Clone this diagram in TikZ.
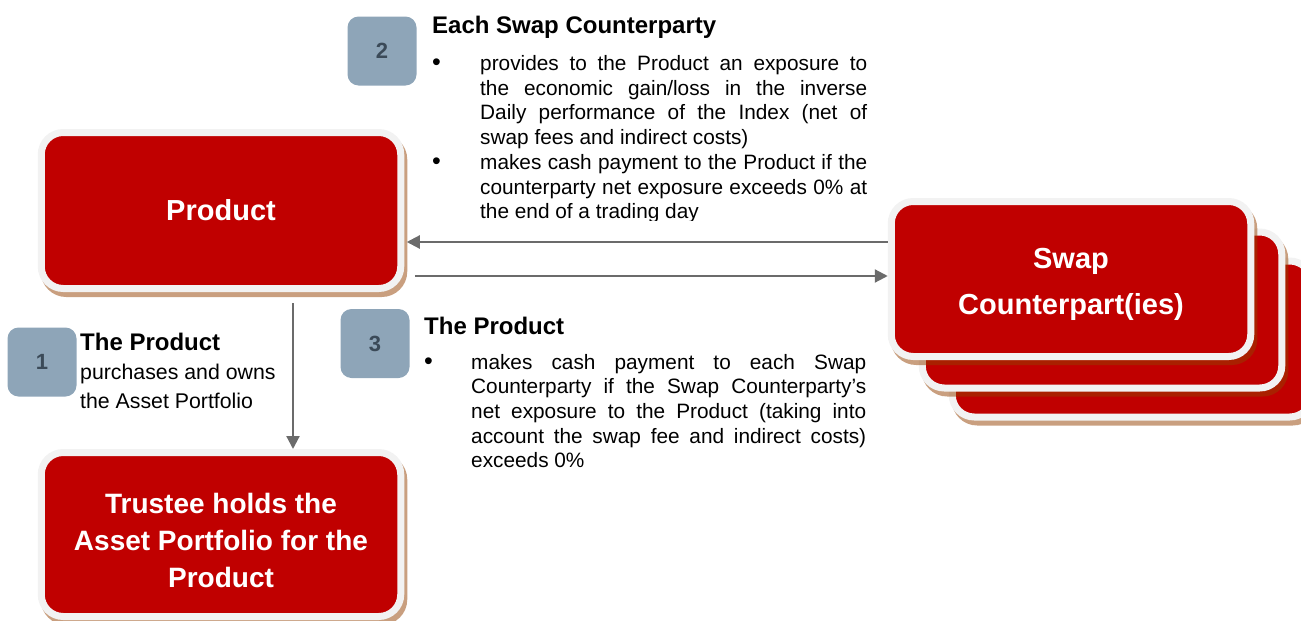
\documentclass[tikz,border=0pt]{standalone}
\usepackage{fontspec}
\setmainfont{Liberation Sans}
\usetikzlibrary{arrows.meta,calc}
\definecolor{boxred}{HTML}{C00000}
\definecolor{rim}{HTML}{F2F2F2}
\definecolor{shadowc}{RGB}{147,64,0}
\definecolor{badgefill}{HTML}{8EA5B8}
\definecolor{badgetext}{HTML}{3B4A58}
\definecolor{arrowgray}{HTML}{6B6B6B}
\hyphenpenalty=10000
\exhyphenpenalty=10000
\tikzset{
  redbox/.style={draw=rim, fill=boxred, line width=7pt, rounded corners=22pt,
    minimum width=359.5pt, minimum height=156pt, inner sep=0pt, text=white,
    font=\fontsize{29}{46}\selectfont\bfseries, align=center,
    preaction={draw=shadowc, draw opacity=0.5, fill=none, line width=7pt,
      transform canvas={xshift=3pt,yshift=-5pt}}},
  boxtext/.style={inner sep=0pt, text=white, font=\fontsize{28}{37}\selectfont\bfseries, align=center},
  badge/.style={fill=badgefill, rounded corners=11pt, minimum size=69pt, inner sep=0pt,
    text=badgetext, font=\fontsize{22}{26}\selectfont\bfseries},
  head/.style={inner sep=0pt, font=\fontsize{24}{28}\selectfont\bfseries, anchor=base west},
  bodytext/.style={inner sep=0pt, font=\fontsize{20.8}{24.7}\selectfont, anchor=base west},
  bulletmark/.style={inner sep=0pt, font=\fontsize{25}{25}\selectfont, anchor=base west},
  para/.style={bodytext, align=justify},
  conn/.style={draw=arrowgray, line width=2.2pt, -{Triangle[length=13pt,width=13pt]}},
}
\begin{document}
\begin{tikzpicture}[x=1pt,y=-1pt]
\useasboundingbox (0,0) rectangle (1301,621);

% main boxes
\node[redbox] (prod) at (221,210.5) {Product};
\node[redbox, minimum height=164pt] (trustee) at (221,534.5) {};
\node[boxtext] (trusteelbl) at (221,540) {Trustee holds the\\Asset Portfolio for the\\Product};

% swap stack
\node[redbox] (swap3) at (1132,339) {};
\node[redbox] (swap2) at (1102,310) {};
\node[redbox, minimum height=155pt] (swap1) at (1071,279) {};
\node[boxtext, font=\fontsize{29}{46}\selectfont\bfseries] (swaplbl) at (1071,284) {Swap\\Counterpart(ies)};

% connectors
\coordinate (ya) at (0,242);
\coordinate (yb) at (0,276);
\coordinate (xv) at (293,0);
\draw[conn] (swap1.west |- ya) -- ($(prod.east |- ya)+(2.5,0)$);
\draw[conn] ($(prod.east |- yb)+(10.5,0)$) -- (swap1.west |- yb);
\draw[conn] ($(prod.south -| xv)+(0,11)$) -- (trustee.north -| xv);

% badges
\node[badge] (n1) at (42,362) {1};
\node[badge] (n2) at (382,51) {2};
\node[badge] (n3) at (375,343.5) {3};

% block 1
\node[head] (h1) at (80,350.5) {The Product};
\node[bodytext, align=left, font=\fontsize{21.3}{29}\selectfont] (t1) at (80,408.5) {purchases and owns\\the Asset Portfolio};

% block 2
\node[head] (h2) at (432,33) {Each Swap Counterparty};
\node[bulletmark] (b2a) at (432,70.5) {•};
\node[para, text width=387pt] (t2a) at (480,70.5) {provides to the Product an exposure to\linebreak the economic gain/loss in the inverse\linebreak Daily performance of the Index (net of\linebreak swap fees and indirect costs)};
\begin{scope}
\clip (420,150) rectangle (880,220);
\node[bulletmark] (b2b) at (432,169.3) {•};
\node[para, text width=387pt] (t2b) at (480,169.3) {makes cash payment to the Product if the\linebreak counterparty net exposure exceeds 0\% at\linebreak the end of a trading day};
\end{scope}

% block 3
\node[head] (h3) at (424,334.5) {The Product};
\node[bulletmark] (b3a) at (424,369) {•};
\node[para, text width=395pt] (t3a) at (471,369) {makes cash payment to each Swap\linebreak Counterparty if the Swap Counterparty’s\linebreak net exposure to the Product (taking into\linebreak account the swap fee and indirect costs)\linebreak exceeds 0\%};
\end{tikzpicture}
\end{document}
